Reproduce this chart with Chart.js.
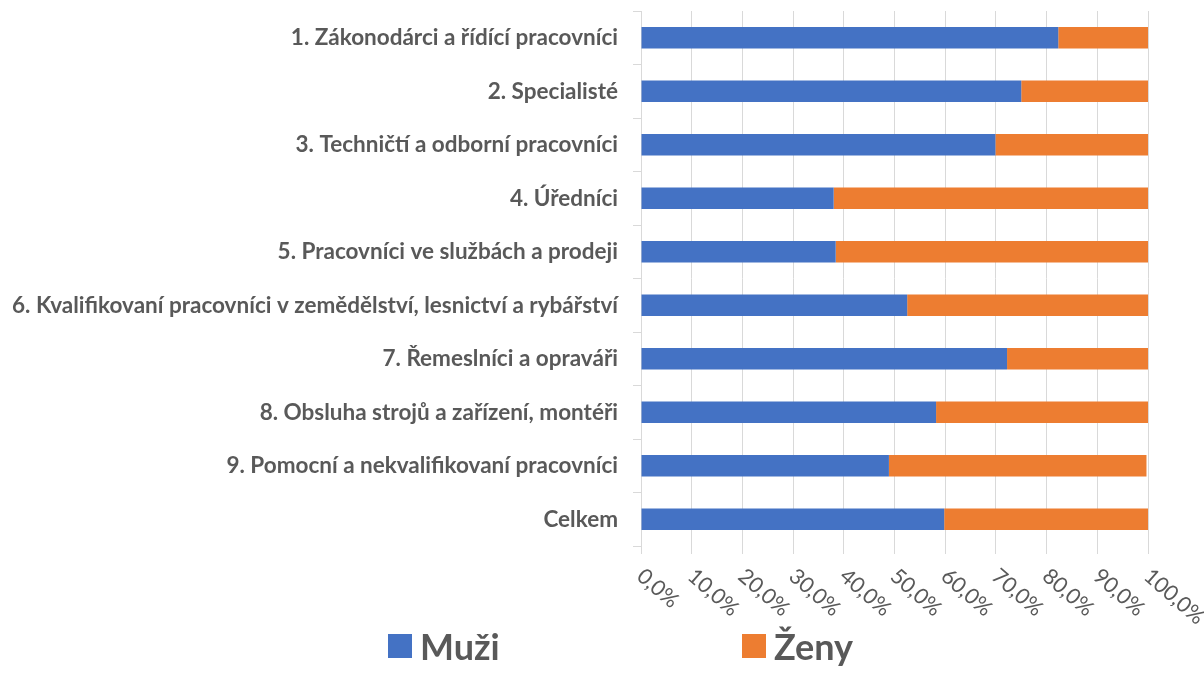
<!DOCTYPE html>
<html>
<head>
<meta charset="utf-8">
<script src="https://cdn.jsdelivr.net/npm/chart.js@4.4.0/dist/chart.umd.min.js"></script>
<style>
    html, body { margin: 0; padding: 0; background: #fff; }
    #wrap { width: 1204px; height: 686px; position: relative; }
</style>
</head>
<body>
<div id="wrap"><canvas id="chart"></canvas></div>
<script>
// Data (podíl v %)
const kategorie = [
    '1. Zákonodárci a řídící pracovníci',
    '2. Specialisté',
    '3. Techničtí a odborní pracovníci',
    '4. Úředníci',
    '5. Pracovníci ve službách a prodeji',
    '6. Kvalifikovaní pracovníci v zemědělství, lesnictví a rybářství',
    '7. Řemeslníci a opraváři',
    '8. Obsluha strojů a zařízení, montéři',
    '9. Pomocní a nekvalifikovaní pracovníci',
    'Celkem'
];
const muzi = [82.3, 75.0, 69.9, 38.0, 38.4, 52.5, 72.2, 58.2, 48.9, 59.8];
const zeny = [17.7, 25.0, 30.1, 62.0, 61.6, 47.5, 27.8, 41.8, 50.8, 40.2];
const osaPopisky = ['0,0%', '10,0%', '20,0%', '30,0%', '40,0%', '50,0%', '60,0%', '70,0%', '80,0%', '90,0%', '100,0%'];
const serie = ['Muži', 'Ženy'];
const barvy = ['#4472C4', '#ED7D31'];

const SEDA = '#595959';
const MRIZKA = '#d9d9d9';

// popisky osy x sikmo dolu doprava (Chart.js toci jen opacne)
const xPopiskyPlugin = {
    id: 'xPopisky',
    afterDraw(chart) {
        const { ctx, scales: { x }, chartArea } = chart;
        ctx.save();
        ctx.font = '21.5px Lato';
        ctx.fillStyle = SEDA;
        ctx.textAlign = 'left';
        ctx.textBaseline = 'middle';
        x.ticks.forEach((t, i) => {
            const px = x.getPixelForValue(t.value);
            ctx.save();
            ctx.translate(px - 1, chartArea.bottom + 27);
            ctx.rotate(41 * Math.PI / 180);
            ctx.fillText(osaPopisky[i], 0, 0);
            ctx.restore();
        });
        ctx.restore();
    }
};

// legenda dole s velkymi mezerami
const legendaPlugin = {
    id: 'legendaDole',
    afterDraw(chart) {
        const { ctx } = chart;
        const pozice = [388, 742];
        ctx.save();
        ctx.font = 'bold 36px Lato';
        ctx.textBaseline = 'middle';
        ctx.textAlign = 'left';
        serie.forEach((s, i) => {
            ctx.fillStyle = barvy[i];
            ctx.fillRect(pozice[i], 634, 24, 24);
            ctx.fillStyle = SEDA;
            ctx.fillText(s, pozice[i] + 32, 648);
        });
        ctx.restore();
    }
};

const ctx = document.getElementById('chart').getContext('2d');
new Chart(ctx, {
    type: 'bar',
    data: {
        labels: kategorie,
        datasets: [
            { label: serie[0], data: muzi, backgroundColor: barvy[0] },
            { label: serie[1], data: zeny, backgroundColor: barvy[1] }
        ]
    },
    options: {
        indexAxis: 'y',
        responsive: true,
        maintainAspectRatio: false,
        animation: false,
        barPercentage: 0.4,
        categoryPercentage: 1,
        layout: { padding: { top: 11, right: 56, left: 0, bottom: 0 } },
        plugins: {
            legend: { display: false },
            tooltip: { enabled: false }
        },
        scales: {
            x: {
                stacked: true,
                min: 0,
                max: 100,
                ticks: { stepSize: 10, display: false },
                grid: { color: MRIZKA, tickLength: 8 },
                border: { display: false },
                afterFit: scale => { scale.height = 140; }
            },
            y: {
                stacked: true,
                grid: { drawOnChartArea: false, offset: true, tickLength: 8, color: MRIZKA },
                border: { display: true, color: MRIZKA },
                ticks: {
                    color: SEDA,
                    padding: 15,
                    font: { family: 'Lato', size: 22.5, weight: 'bold' }
                },
                afterFit: scale => {
                    scale.width = 641;
                    scale.paddingTop = 0;
                    scale.paddingBottom = 0;
                }
            }
        }
    },
    plugins: [xPopiskyPlugin, legendaPlugin]
});
</script>
</body>
</html>
